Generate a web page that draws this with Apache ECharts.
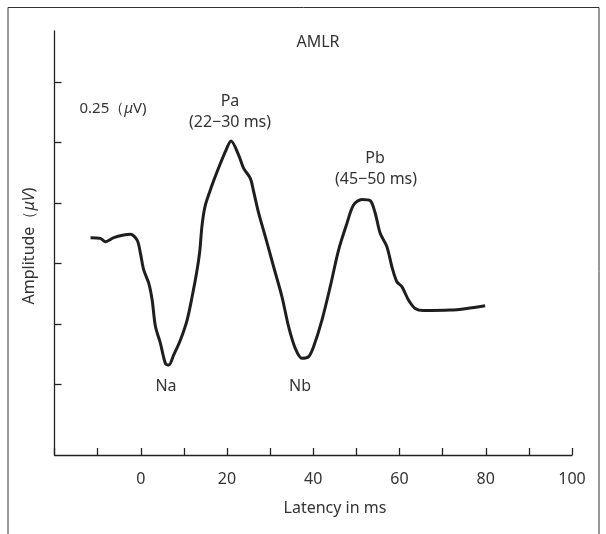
<!DOCTYPE html>
<html>
<head>
<meta charset="utf-8">
<script src="https://cdn.jsdelivr.net/npm/echarts@6/dist/echarts.min.js"></script>
<style>
  html, body { margin: 0; padding: 0; background: #fff; }
  #chart { width: 606px; height: 534px; }
</style>
</head>
<body>
<div id="chart"></div>
<script>
// latency (ms) of each traced point
const latency = [
  -11.65, -9.34, -8.18, -6.25, -3.94, -2.39, -0.83, -0.07, 0.69, 1.85,
  2.64, 3.41, 4.56, 5.72, 6.49, 7.64, 9.20, 10.75, 11.91, 13.06,
  13.67, 14.22, 14.99, 16.54, 17.70, 19.62, 20.94, 22.70, 23.86, 25.41,
  26.18, 27.33, 28.89, 30.81, 32.75, 34.28, 35.84, 37.39, 38.92, 40.07,
  42.02, 43.94, 45.87, 47.81, 49.34, 51.29, 53.21, 54.37, 55.52, 57.08,
  58.24, 59.39, 60.55, 62.08, 63.63, 65.56, 71.74, 75.61, 79.85
];
// amplitude (µV) at each latency
const amplitude = [
  -0.143, -0.146, -0.160, -0.143, -0.132, -0.129, -0.153, -0.208, -0.276, -0.331,
  -0.400, -0.510, -0.579, -0.662, -0.669, -0.627, -0.565, -0.483, -0.387, -0.276,
  -0.201, -0.091, -0.008, 0.074, 0.129, 0.212, 0.256, 0.198, 0.143, 0.102,
  0.047, -0.041, -0.139, -0.263, -0.387, -0.510, -0.600, -0.641, -0.634, -0.593,
  -0.483, -0.345, -0.194, -0.084, -0.008, 0.015, 0.010, -0.042, -0.125, -0.180,
  -0.263, -0.325, -0.345, -0.400, -0.435, -0.444, -0.442, -0.435, -0.424
];
// tick positions
const xLabelValues = [0, 20, 40, 60, 80, 100];
const yTickValues = [-0.75, -0.5, -0.25, 0, 0.25, 0.5];

const txt = '#333';
const fontFamily = '"Noto Sans", "Open Sans", sans-serif';

const chart = echarts.init(document.getElementById('chart'));

const seriesData = latency.map((x, i) => [x, amplitude[i]]);

// small helper for the free-standing labels
function label(x, y, text, size) {
  return {
    type: 'text', x: x, y: y,
    style: {
      text: text, fill: txt, font: (size || 16) + 'px ' + fontFamily,
      align: 'center', verticalAlign: 'middle',
      rich: { i: { fontStyle: 'italic', fontSize: size || 16, fontFamily: fontFamily, fill: txt } }
    }
  };
}

chart.setOption({
  animation: false,
  backgroundColor: '#fff',
  grid: { left: 54.5, right: 34, top: 31, bottom: 79 },
  xAxis: {
    type: 'value',
    min: -20,
    max: 100,
    interval: 10,
    axisLine: { onZero: false, lineStyle: { color: '#222', width: 1.3 } },
    axisTick: { inside: true, length: 7, lineStyle: { color: '#222', width: 1.3 } },
    axisLabel: {
      margin: 16,
      color: txt,
      fontSize: 16,
      fontFamily: fontFamily,
      formatter: v => (xLabelValues.indexOf(v) >= 0 ? String(v) : '')
    },
    splitLine: { show: false }
  },
  yAxis: {
    type: 'value',
    min: -1.04,
    max: 0.71,
    axisLine: { show: true, onZero: false, lineStyle: { color: '#222', width: 1.3 } },
    axisTick: {
      show: true,
      inside: true,
      length: 7,
      customValues: yTickValues,
      lineStyle: { color: '#222', width: 1.3 }
    },
    axisLabel: { show: false },
    splitLine: { show: false }
  },
  series: [{
    type: 'line',
    data: seriesData,
    showSymbol: false,
    smooth: 0.3,
    lineStyle: { color: '#1e1e1e', width: 3 }
  }],
  graphic: [
    {
      type: 'rect',
      shape: { x: 8, y: 7.5, width: 591, height: 600 },
      style: { fill: null, stroke: '#333', lineWidth: 1 },
      silent: true
    },
    label(318, 42, 'AMLR'),
    label(113, 109, '0.25（{i|μ}V)', 15),
    label(230, 101, 'Pa'),
    label(230, 122, '(22−30 ms)'),
    label(375, 158, 'Pb'),
    label(376, 179, '(45−50 ms)'),
    label(166, 386, 'Na'),
    label(300, 386, 'Nb'),
    label(335, 508, 'Latency in ms'),
    Object.assign(label(29, 246, 'Amplitude（{i|μV})'), { rotation: Math.PI / 2 })
  ]
});
</script>
</body>
</html>
